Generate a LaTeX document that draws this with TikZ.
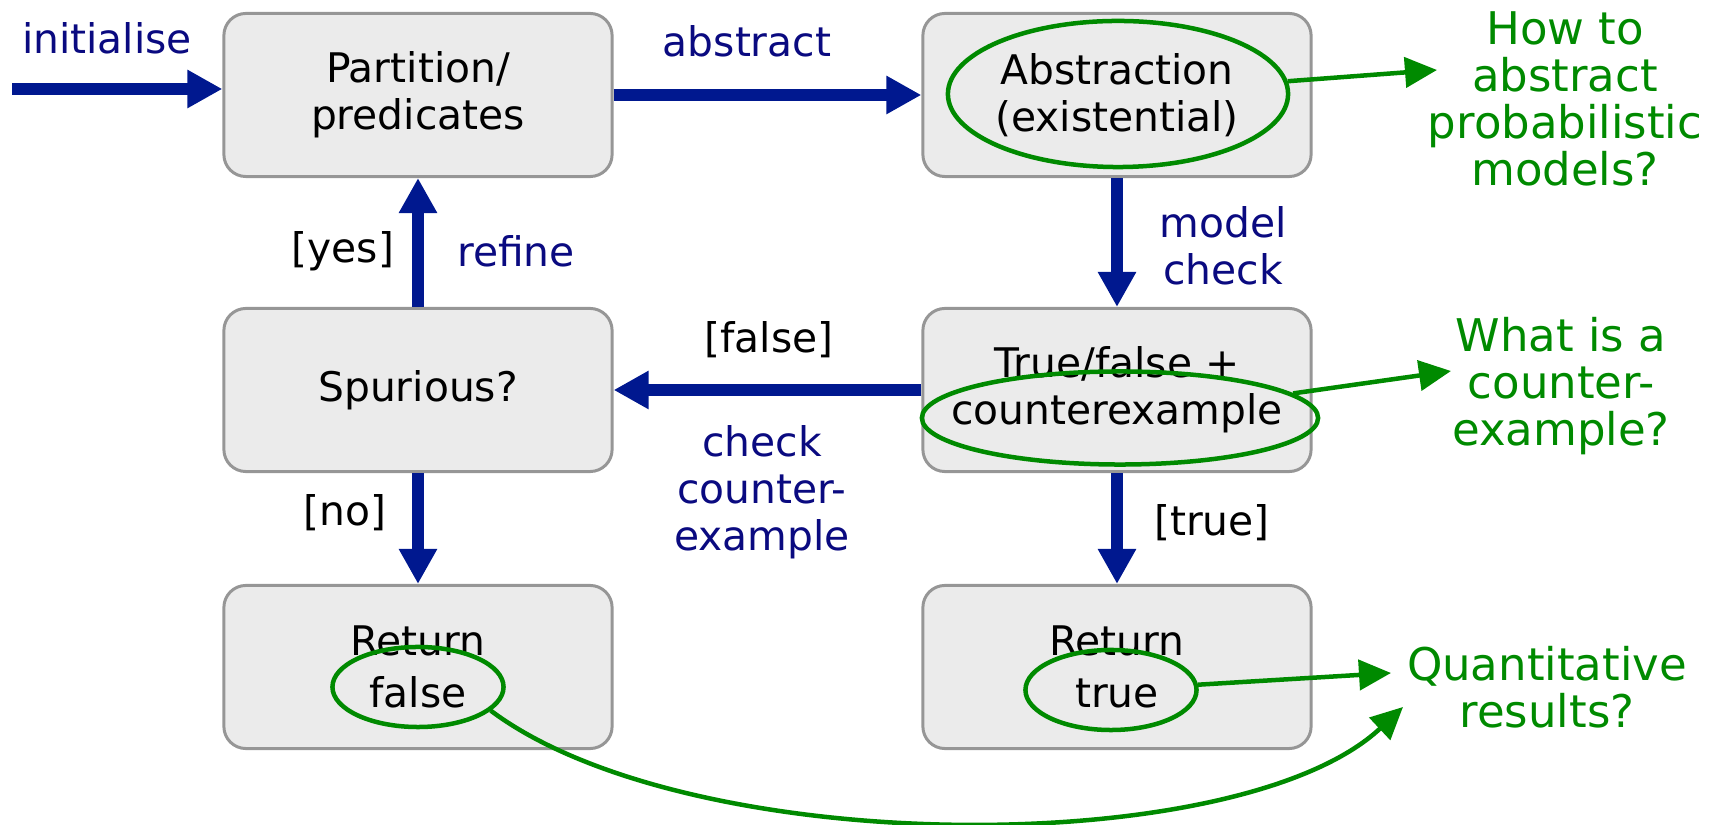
\documentclass[tikz,border=0pt]{standalone}
\usepackage{fontspec}
\setmainfont{DejaVu Sans}
\usepackage{tikz}
\usetikzlibrary{arrows.meta,shapes.geometric}
\definecolor{boxgrey}{RGB}{235,235,235}
\definecolor{boxline}{RGB}{150,150,150}
\definecolor{flowblue}{RGB}{0,24,143}
\definecolor{lblblue}{RGB}{10,10,128}
\definecolor{qgreen}{RGB}{0,138,0}
\tikzstyle{stage} = [draw=boxline,fill=boxgrey,line width=0.85pt,rounded corners=0.22cm,minimum width=3.88cm,minimum height=1.63cm,align=center,inner sep=0]
\tikzstyle{flow} = [draw=flowblue,line width=0.115cm,-{Triangle[length=0.35cm,width=0.36cm]}]
\tikzstyle{note} = [draw=qgreen,line width=0.045cm,-{Triangle[length=0.32cm,width=0.3cm]}]
\tikzstyle{ring} = [draw=qgreen,line width=0.045cm,ellipse,inner sep=0]

\begin{document}
\begin{tikzpicture}[x=0.01cm,y=-0.01cm,font=\fontsize{11.6}{13.3}\selectfont,lbl/.style={text=lblblue,align=center},qtext/.style={text=qgreen,align=center,font=\fontsize{12.8}{13.3}\selectfont}]
    \useasboundingbox (0,0) rectangle (1723,825);

    \node[stage] (part) at (418,95) {Partition/\\predicates};
    \node[stage] (abs) at (1117,95) {Abstraction\\(existential)};
    \node[stage] (spur) at (418,390) {Spurious?};
    \node[stage] (tf) at (1117,390) {True/false +\\counterexample};
    \node[stage,font=\fontsize{11.6}{14.6}\selectfont] (retf) at (418,667) {Return\\false};
    \node[stage,font=\fontsize{11.6}{14.6}\selectfont] (rett) at (1117,667) {Return\\true};

    \coordinate (init) at (12,89);
    \draw[flow] (init) -- (init -| part.west);
    \draw[flow] (part) -- (abs);
    \draw[flow] (abs) -- (tf);
    \draw[flow] (tf) -- (spur);
    \draw[flow] (spur) -- (part);
    \draw[flow] (spur) -- (retf);
    \draw[flow] (tf) -- (rett);

    \node[lbl] (linit) at (107,38) {initialise};
    \node[lbl] (labs) at (747,41) {abstract};
    \node[lbl] (lmc) at (1223,246) {model\\check};
    \node (lfalse) at (769,340) {[false]};
    \node[lbl] (lcheck) at (762,492) {check\\counter-\\example};
    \node (lyes) at (343,251) {[yes]};
    \node[lbl] (lref) at (516,251) {refine};
    \node (lno) at (345,513) {[no]};
    \node (ltrue) at (1212,523) {[true]};

    \node[ring,minimum width=3.4cm,minimum height=1.46cm] (absell) at (1118,94) {};
    \node[ring,minimum width=3.96cm,minimum height=0.93cm] (ceell) at (1120,418) {};
    \node[ring,minimum width=1.71cm,minimum height=0.8cm] (fell) at (418,687) {};
    \node[ring,minimum width=1.71cm,minimum height=0.8cm] (tell) at (1111,690) {};

    \node[qtext] (howto) at (1565,99) {How to\\abstract\\probabilistic\\models?};
    \node[qtext] (whatis) at (1561,386) {What is a\\counter-\\example?};
    \node[qtext] (quant) at (1547,687) {Quantitative\\results?};

    \coordinate (howtip) at (1437,70);
    \coordinate (whattip) at (1451,371);
    \coordinate (qtipa) at (1391,673);
    \coordinate (qtipb) at (1403,707);
    \draw[note] (absell) -- (howtip);
    \draw[note] (ceell) -- (whattip);
    \draw[note] (tell) -- (qtipa);
    \draw[note] (fell.-18) .. controls (690,860) and (1240,860) .. (qtipb);

\end{tikzpicture}
\end{document}
